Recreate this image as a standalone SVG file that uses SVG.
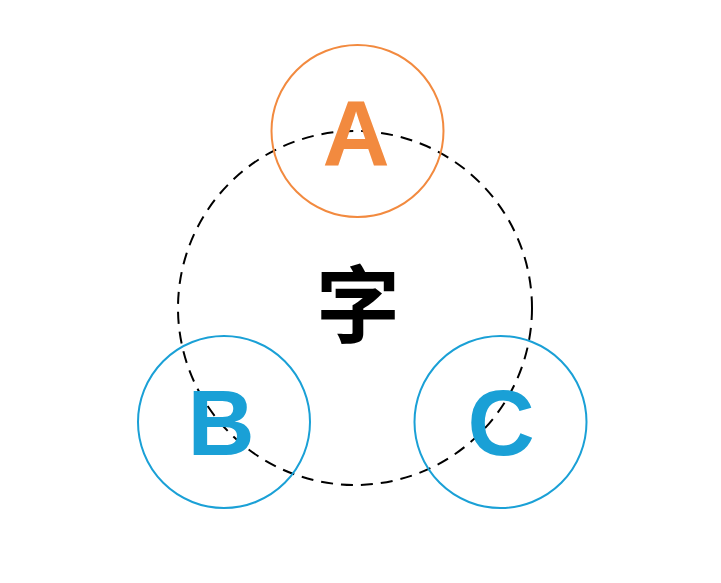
<svg xmlns="http://www.w3.org/2000/svg" width="721" height="583" viewBox="0 0 721 583">
<style>
.node{fill:none;stroke-width:2}
.a{stroke:#F28A3F}
.bc{stroke:#1AA0D6}
.lbl{font-family:"Liberation Sans",Arial,sans-serif;font-weight:bold;font-size:93px;text-anchor:middle}
.center{font-family:"Noto Sans CJK SC","Noto Sans",sans-serif;font-weight:bold;font-size:84px;text-anchor:middle;fill:#000}
</style>
<rect width="721" height="583" fill="#fff"/>
<g id="connectors">
<circle cx="355" cy="308" r="177" fill="none" stroke="#000" stroke-width="2" stroke-dasharray="12 8"/>
</g>
<g id="center-node">
<text class="center" x="358" y="336">字</text>
</g>
<g id="node-A">
<circle class="node a" cx="357.5" cy="131" r="86"/>
<text class="lbl" x="356" y="165" fill="#F28A3F">A</text>
</g>
<g id="node-B">
<circle class="node bc" cx="224" cy="422" r="86"/>
<text class="lbl" x="221" y="455" fill="#1AA0D6">B</text>
</g>
<g id="node-C">
<circle class="node bc" cx="500.5" cy="422" r="86"/>
<text class="lbl" x="501" y="455" fill="#1AA0D6">C</text>
</g>
</svg>
